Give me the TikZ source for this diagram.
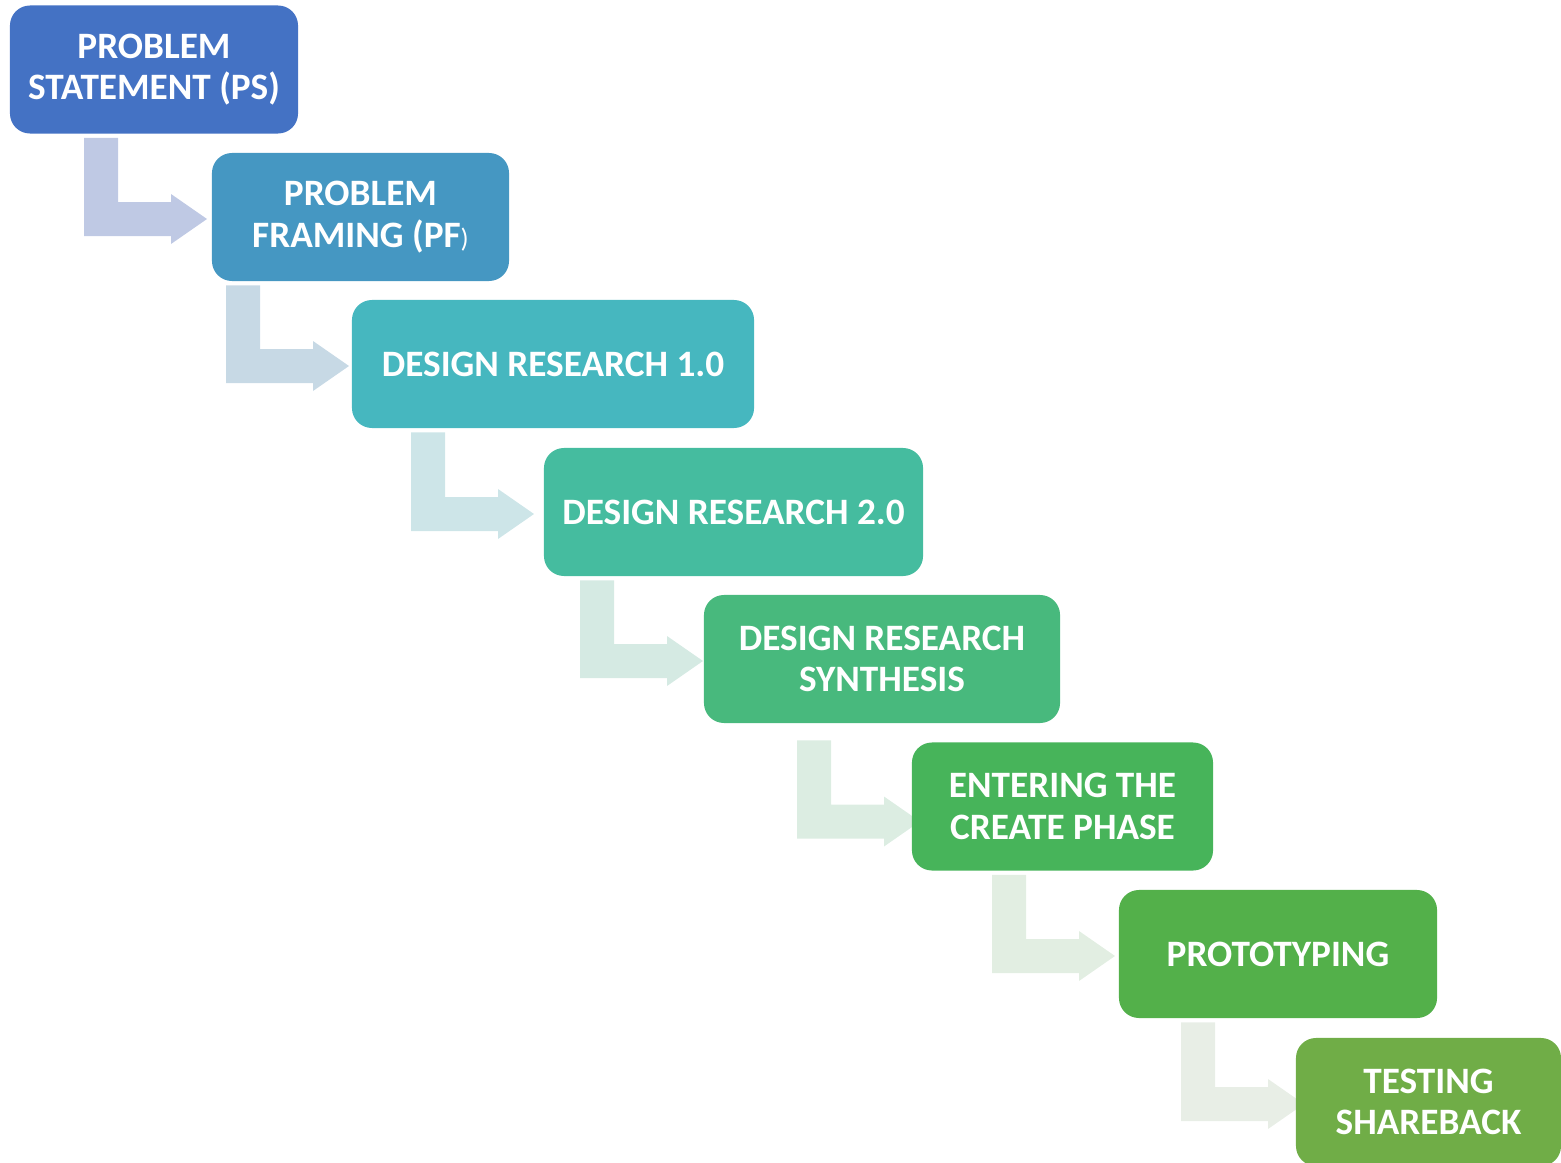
\documentclass[tikz,border=0pt]{standalone}
\usepackage{fontspec}
\setmainfont{Carlito}
\usetikzlibrary{calc,backgrounds}

\definecolor{psblue}{HTML}{4472C4}
\definecolor{pfblue}{HTML}{4597C2}
\definecolor{drone}{HTML}{46B7BF}
\definecolor{drtwo}{HTML}{45BC9F}
\definecolor{drsyn}{HTML}{48B97D}
\definecolor{entgreen}{HTML}{47B45A}
\definecolor{protogreen}{HTML}{53B04A}
\definecolor{testgreen}{HTML}{70AD47}
\definecolor{arra}{HTML}{BFC9E4}
\definecolor{arrb}{HTML}{C7D9E5}
\definecolor{arrc}{HTML}{CDE5E8}
\definecolor{arrd}{HTML}{D5EAE3}
\definecolor{arre}{HTML}{DCEDE2}
\definecolor{arrf}{HTML}{E2EEE2}
\definecolor{arrg}{HTML}{E8EEE6}

\newcommand\pxu{0.025cm}
\tikzset{stepbox/.style={rounded corners=0.5cm, minimum height=3.2cm, inner sep=0pt,
  text=white, align=center, font=\bfseries\fontsize{26.5}{29.5}\selectfont}}

\newcommand\stepdown[6]{%
  \fill[#5] let \p1=($(#1.south)+(0,4+#6)$), \p2=($(#2.west)+(0,2+#6)$) in
    ({#3*\pxu},\y1) -- ({(#3+34)*\pxu},\y1) -- ({(#3+34)*\pxu},{\y2+17*\pxu})
    -- ({#4*\pxu},{\y2+17*\pxu}) -- ({#4*\pxu},{\y2+25*\pxu}) -- ({(#4+36)*\pxu},\y2)
    -- ({#4*\pxu},{\y2-25*\pxu}) -- ({#4*\pxu},{\y2-17*\pxu}) -- ({#3*\pxu},{\y2-17*\pxu}) -- cycle;
}

\begin{document}
\begin{tikzpicture}[x=\pxu,y=-\pxu]
\clip (0,0) rectangle (1561,1163);
\node[stepbox, fill=psblue, minimum width=7.2cm] (ps) at (154,69.5) {PROBLEM\\STATEMENT (PS)};
\node[stepbox, fill=pfblue, minimum width=7.425cm] (pf) at (360.5,217) {PROBLEM\\FRAMING (PF{\mdseries\fontsize{19}{19}\selectfont)}};
\node[stepbox, fill=drone, minimum width=10.05cm] (drone) at (553,364) {DESIGN RESEARCH 1.0};
\node[stepbox, fill=drtwo, minimum width=9.475cm] (drtwo) at (733.5,512) {DESIGN RESEARCH 2.0};
\node[stepbox, fill=drsyn, minimum width=8.9cm] (drsyn) at (882,659) {DESIGN RESEARCH\\SYNTHESIS};
\node[stepbox, fill=entgreen, minimum width=7.525cm] (enter) at (1062.5,806.5) {ENTERING THE\\CREATE PHASE};
\node[stepbox, fill=protogreen, minimum width=7.95cm] (proto) at (1278,954) {PROTOTYPING};
\node[stepbox, fill=testgreen, minimum width=6.625cm] (test) at (1428.5,1102) {TESTING\\SHAREBACK};
\begin{scope}[on background layer]
\stepdown{ps}{pf}{84}{171}{arra}{0}
\stepdown{pf}{drone}{226}{313}{arrb}{0}
\stepdown{drone}{drtwo}{411}{498}{arrc}{0}
\stepdown{drtwo}{drsyn}{580}{667}{arrd}{0}
\stepdown{drsyn}{enter}{797}{884}{arre}{13}
\stepdown{enter}{proto}{992}{1079}{arrf}{0}
\stepdown{proto}{test}{1181}{1268}{arrg}{0}
\end{scope}
\end{tikzpicture}
\end{document}
